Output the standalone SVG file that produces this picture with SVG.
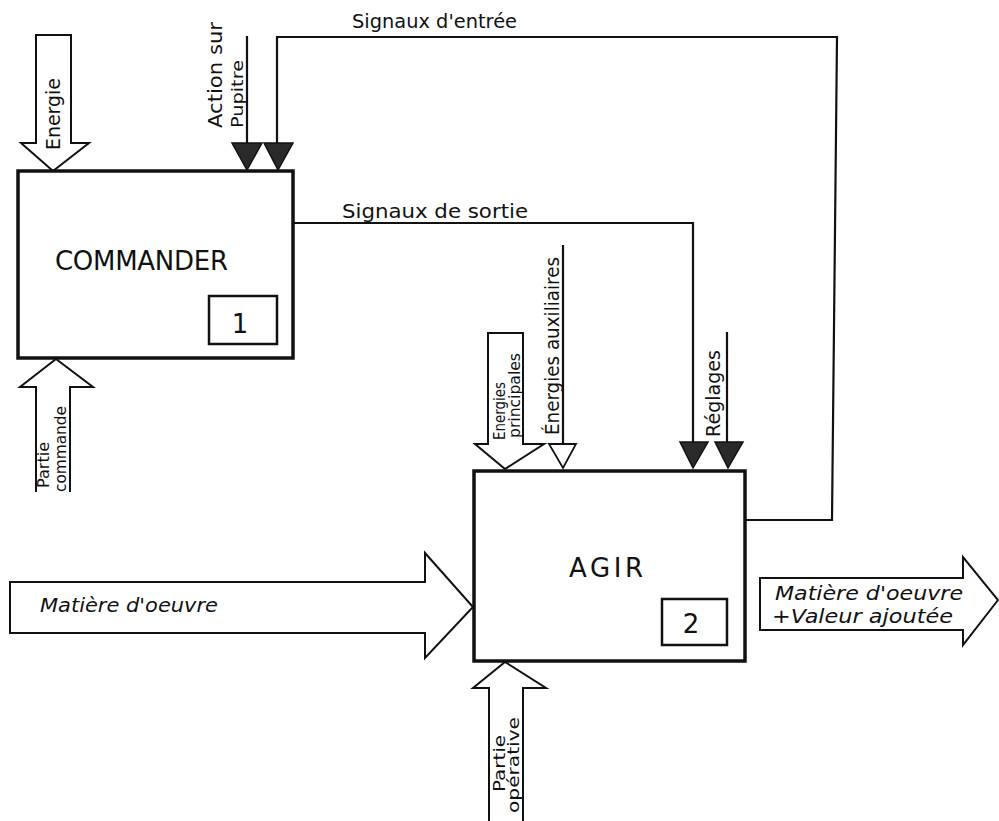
<svg xmlns="http://www.w3.org/2000/svg" width="999" height="821" viewBox="0 0 999 821">
<style>
.box{fill:#fff;stroke:#111;stroke-width:3.5}
.sub{fill:#fff;stroke:#111;stroke-width:2.5}
.ln{fill:none;stroke:#111;stroke-width:2.2}
.big{fill:#fff;stroke:#111;stroke-width:2}
.tri{fill:#2a2a2a;stroke:#111;stroke-width:1.5}
.otri{fill:#fff;stroke:#111;stroke-width:1.8}
text{font-family:"DejaVu Sans","Liberation Sans",sans-serif;fill:#111}
.t{font-size:19px}
.s{font-size:16px}
.it{font-size:20px;font-style:italic}
.ttl{font-size:26px}
</style>
<g id="connectors">
  <path class="ln" d="M277,143 V37 H837 L832,520 H745"/>
  <path class="tri" d="M264,143 H293 L278,170 Z"/>
  <path class="ln" d="M247,36 V143"/>
  <path class="tri" d="M232,143 H262 L247,170 Z"/>
  <path class="ln" d="M293,223 H693 V442"/>
  <path class="tri" d="M680,442 H708 L693,468 Z"/>
  <path class="ln" d="M727,332 V442"/>
  <path class="tri" d="M715,442 H743 L728,468 Z"/>
  <path class="ln" d="M563,245 V444"/>
  <path class="otri" d="M549,444 H576 L563,468 Z"/>
  <path class="big" d="M36,35 H71 V143 H89 L53,171 L21,143 H36 Z"/>
  <path class="big" d="M36,492 V387 H20 L56,359 L93,387 H70 V492"/>
  <path class="big" d="M488,333 H523 V444 H544 L505,469 L475,444 H488 Z"/>
  <path class="big" d="M489,821 V688 H473 L505,662 L546,688 H523 V821"/>
  <path class="big" d="M10,582 H425 V553 L473,607 L425,658 V633 H10 Z"/>
  <path class="big" d="M760,578 H963 V557 L998,600 L963,645 V630 H760 Z"/>
</g>
<g id="labels">
  <text class="t" x="352" y="28" textLength="165" lengthAdjust="spacingAndGlyphs">Signaux d'entrée</text>
  <text class="t" x="342" y="218" textLength="186" lengthAdjust="spacingAndGlyphs">Signaux de sortie</text>
  <text class="t" transform="translate(60,150) rotate(-90)" textLength="72" lengthAdjust="spacingAndGlyphs">Energie</text>
  <text class="t" transform="translate(222,128) rotate(-90)" textLength="106" lengthAdjust="spacingAndGlyphs">Action sur</text>
  <text class="s" transform="translate(243,128) rotate(-90)" textLength="68" lengthAdjust="spacingAndGlyphs">Pupitre</text>
  <text class="s" transform="translate(505,440) rotate(-90)" textLength="58" lengthAdjust="spacingAndGlyphs">Energies</text>
  <text class="s" transform="translate(520,438) rotate(-90)" textLength="85" lengthAdjust="spacingAndGlyphs">principales</text>
  <text class="t" transform="translate(559,435) rotate(-90)" textLength="178" lengthAdjust="spacingAndGlyphs">Énergies auxiliaires</text>
  <text class="t" transform="translate(720,437) rotate(-90)" textLength="87" lengthAdjust="spacingAndGlyphs">Réglages</text>
  <text class="s" transform="translate(49,488) rotate(-90)" textLength="46" lengthAdjust="spacingAndGlyphs">Partie</text>
  <text class="s" transform="translate(66,492) rotate(-90)" textLength="86" lengthAdjust="spacingAndGlyphs">commande</text>
  <text class="s" transform="translate(505,792) rotate(-90)" textLength="57" lengthAdjust="spacingAndGlyphs">Partie</text>
  <text class="s" transform="translate(519,813) rotate(-90)" textLength="96" lengthAdjust="spacingAndGlyphs">opérative</text>
  <text class="it" x="40" y="612" textLength="178" lengthAdjust="spacingAndGlyphs">Matière d'oeuvre</text>
  <text class="it" x="775" y="600" textLength="188" lengthAdjust="spacingAndGlyphs">Matière d'oeuvre</text>
  <text class="it" x="772" y="623" textLength="181" lengthAdjust="spacingAndGlyphs">+Valeur ajoutée</text>
</g>
<g id="commander">
  <rect class="box" x="18" y="171" width="275" height="187"/>
  <text class="ttl" x="55" y="270" textLength="173">COMMANDER</text>
  <rect class="sub" x="209" y="296" width="68" height="48"/>
  <text class="ttl" x="240" y="333" text-anchor="middle">1</text>
</g>
<g id="agir">
  <rect class="box" x="474" y="471" width="271" height="190"/>
  <text class="ttl" x="569" y="577" textLength="74">AGIR</text>
  <rect class="sub" x="662" y="599" width="65" height="46"/>
  <text class="ttl" x="691" y="633" text-anchor="middle">2</text>
</g>
</svg>
